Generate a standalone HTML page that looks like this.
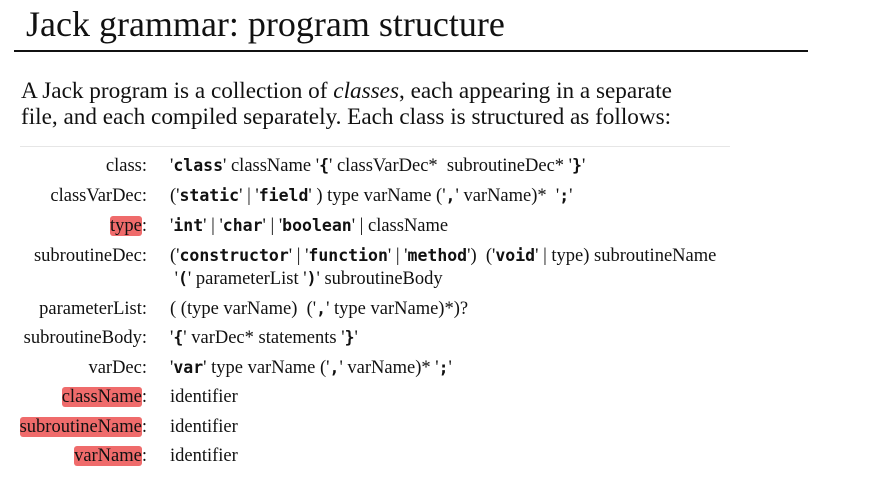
<!DOCTYPE html>
<html><head><meta charset="utf-8"><style>
body{margin:0;width:873px;height:496px;background:#fff;position:relative;overflow:hidden;font-family:"Liberation Serif",serif;color:#111}
.a{position:absolute;white-space:pre}
.t{left:26px;top:3px;font-size:36px;line-height:42px}
.p{left:21px;font-size:23.2px;line-height:26px}
.l{right:726px;font-size:18.5px;line-height:20px;text-align:right}
.r{left:170px;font-size:18.5px;line-height:20px}
b{font-family:"DejaVu Sans Mono",monospace;font-size:16.5px;font-weight:bold}
.h{background:#ef6b6b;border-radius:3px}
</style></head><body>
<div class="a t">Jack grammar: program structure</div>
<div style="position:absolute;left:14px;top:50px;width:794px;height:2px;background:#111"></div>
<div class="a p" style="top:78px">A Jack program is a collection of <i>classes</i>, each appearing in a separate</div>
<div class="a p" style="top:104px">file, and each compiled separately. Each class is structured as follows:</div>
<div style="position:absolute;left:20px;top:146px;width:710px;height:1px;background:#e6e6e6"></div>

<div class="a l" style="top:156px">class:</div>
<div class="a r" style="top:156px">'<b>class</b>' className '<b>{</b>' classVarDec*  subroutineDec* '<b>}</b>'</div>
<div class="a l" style="top:186px">classVarDec:</div>
<div class="a r" style="top:186px">('<b>static</b>' | '<b>field</b>' ) type varName ('<b>,</b>' varName)*  '<b>;</b>'</div>
<div class="a l" style="top:216px"><span class="h">type</span>:</div>
<div class="a r" style="top:216px">'<b>int</b>' | '<b>char</b>' | '<b>boolean</b>' | className</div>
<div class="a l" style="top:246px">subroutineDec:</div>
<div class="a r" style="top:246px">('<b>constructor</b>' | '<b>function</b>' | '<b>method</b>')  ('<b>void</b>' | type) subroutineName</div>
<div class="a r" style="top:269px"> '<b>(</b>' parameterList '<b>)</b>' subroutineBody</div>
<div class="a l" style="top:299px">parameterList:</div>
<div class="a r" style="top:299px">( (type varName)  ('<b>,</b>' type varName)*)?</div>
<div class="a l" style="top:328px">subroutineBody:</div>
<div class="a r" style="top:328px">'<b>{</b>' varDec* statements '<b>}</b>'</div>
<div class="a l" style="top:358px">varDec:</div>
<div class="a r" style="top:358px">'<b>var</b>' type varName ('<b>,</b>' varName)* '<b>;</b>'</div>
<div class="a l" style="top:387px"><span class="h">className</span>:</div>
<div class="a r" style="top:387px">identifier</div>
<div class="a l" style="top:417px"><span class="h">subroutineName</span>:</div>
<div class="a r" style="top:417px">identifier</div>
<div class="a l" style="top:446px"><span class="h">varName</span>:</div>
<div class="a r" style="top:446px">identifier</div>
</body></html>
